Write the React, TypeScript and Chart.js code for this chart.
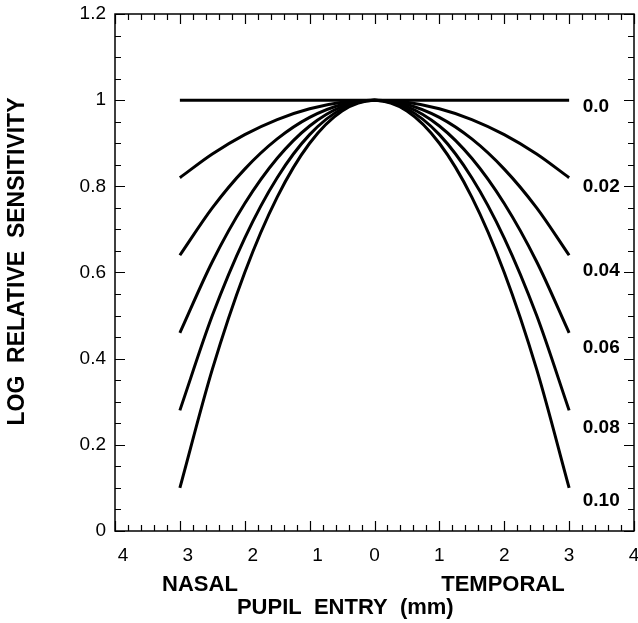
import React, { useEffect, useRef } from 'react';
import { Chart, registerables } from 'chart.js';

Chart.register(...registerables);

// Pupil entry position (mm), negative = nasal, positive = temporal
const pupilEntry = [-3, -2.5, -2, -1.5, -1, -0.5, 0, 0.5, 1, 1.5, 2, 2.5, 3];

// Log relative sensitivity for each rho value
const rho000 = [1, 1, 1, 1, 1, 1, 1, 1, 1, 1, 1, 1, 1];
const rho002 = [0.82, 0.875, 0.92, 0.955, 0.98, 0.995, 1, 0.995, 0.98, 0.955, 0.92, 0.875, 0.82];
const rho004 = [0.64, 0.75, 0.84, 0.91, 0.96, 0.99, 1, 0.99, 0.96, 0.91, 0.84, 0.75, 0.64];
const rho006 = [0.46, 0.625, 0.76, 0.865, 0.94, 0.985, 1, 0.985, 0.94, 0.865, 0.76, 0.625, 0.46];
const rho008 = [0.28, 0.5, 0.68, 0.82, 0.92, 0.98, 1, 0.98, 0.92, 0.82, 0.68, 0.5, 0.28];
const rho010 = [0.1, 0.375, 0.6, 0.775, 0.9, 0.975, 1, 0.975, 0.9, 0.775, 0.6, 0.375, 0.1];

const seriesList = [rho000, rho002, rho004, rho006, rho008, rho010];
const curveLabels = ['0.0', '0.02', '0.04', '0.06', '0.08', '0.10'];
const curveLabelValues = [0.985, 0.8, 0.605, 0.425, 0.24, 0.07];

const yTitle = 'LOG  RELATIVE  SENSITIVITY';
const xTitle = 'PUPIL  ENTRY  (mm)';
const sideLabels = ['NASAL', 'TEMPORAL'];

const FONT = '"Liberation Sans", Arial, Helvetica, sans-serif';

const decorPlugin = {
  id: 'decor',
  afterDraw(chart: any) {
    const { ctx, chartArea: a, scales } = chart;
    const x = scales.x;
    const y = scales.y;
    ctx.save();
    ctx.strokeStyle = '#000';
    ctx.fillStyle = '#000';
    ctx.lineWidth = 1.5;
    ctx.strokeRect(a.left, a.top, a.right - a.left, a.bottom - a.top);

    ctx.lineWidth = 1.2;
    ctx.beginPath();
    for (let i = -20; i <= 20; i++) {
      const px = Math.round(x.getPixelForValue(i / 5)) + 0.5;
      const len = i % 5 === 0 ? 10 : 6;
      ctx.moveTo(px, a.bottom);
      ctx.lineTo(px, a.bottom - len);
      ctx.moveTo(px, a.top);
      ctx.lineTo(px, a.top + len);
    }
    for (let i = 0; i <= 24; i++) {
      const py = Math.round(y.getPixelForValue(i * 0.05)) + 0.5;
      const len = i % 4 === 0 ? 10 : 6;
      ctx.moveTo(a.left, py);
      ctx.lineTo(a.left + len, py);
      ctx.moveTo(a.right, py);
      ctx.lineTo(a.right - len, py);
    }
    ctx.stroke();

    // curve labels
    ctx.font = 'bold 19px ' + FONT;
    ctx.textAlign = 'left';
    ctx.textBaseline = 'middle';
    curveLabels.forEach((t, i) => {
      ctx.fillText(t, x.getPixelForValue(3.21), y.getPixelForValue(curveLabelValues[i]));
    });

    // NASAL / TEMPORAL / axis titles
    ctx.font = 'bold 22px ' + FONT;
    ctx.textAlign = 'center';
    ctx.fillText(sideLabels[0], x.getPixelForValue(-2.69), a.bottom + 54);
    ctx.fillText(sideLabels[1], x.getPixelForValue(1.98), a.bottom + 54);
    ctx.fillText(xTitle, x.getPixelForValue(-0.45), a.bottom + 77);

    ctx.font = 'bold 23px ' + FONT;
    ctx.translate(18, (a.top + a.bottom) / 2 - 11);
    ctx.rotate(-Math.PI / 2);
    ctx.fillText(yTitle, 0, 0);
    ctx.restore();
  },
};

export default function App() {
  const ref = useRef<HTMLCanvasElement | null>(null);
  useEffect(() => {
    document.body.style.margin = '0';
    const canvas = ref.current;
    if (!canvas) return;
    const chart = new Chart(canvas, {
      type: 'line',
      data: {
        datasets: seriesList.map((s, i) => ({
          label: curveLabels[i],
          data: pupilEntry.map((xv, j) => ({ x: xv, y: s[j] })),
          borderColor: '#000',
          borderWidth: 3,
          pointRadius: 0,
          fill: false,
          cubicInterpolationMode: 'monotone' as const,
        })),
      },
      options: {
        responsive: false,
        animation: false,
        devicePixelRatio: 1,
        layout: { padding: { left: 0, right: 4, top: 14, bottom: 0 } },
        plugins: { legend: { display: false }, tooltip: { enabled: false } },
        scales: {
          x: {
            type: 'linear',
            min: -4,
            max: 4,
            grid: { display: false, drawTicks: false },
            border: { display: false },
            afterFit: (s: any) => {
              s.height = 92;
              s.paddingLeft = 0;
              s.paddingRight = 0;
            },
            ticks: {
              stepSize: 1,
              padding: 13,
              color: '#000',
              font: { family: FONT, size: 19 },
              maxRotation: 0,
              callback: (v: any) => (Number(v) < 0 ? '   ' + Math.abs(Number(v)) : String(Math.abs(Number(v)))),
            },
          },
          y: {
            type: 'linear',
            min: 0,
            max: 1.2,
            grid: { display: false, drawTicks: false },
            border: { display: false },
            afterFit: (s: any) => {
              s.width = 115;
              s.paddingTop = 0;
              s.paddingBottom = 0;
            },
            ticks: {
              stepSize: 0.2,
              padding: 9,
              color: '#000',
              font: { family: FONT, size: 19 },
              callback: (v: any) => String(Number(Number(v).toFixed(1))),
            },
          },
        },
      },
      plugins: [decorPlugin],
    });
    return () => chart.destroy();
  }, []);
  return (
    <div style={{ width: 638, height: 623 }}>
      <canvas ref={ref} width={638} height={623} style={{ display: 'block' }} />
    </div>
  );
}
